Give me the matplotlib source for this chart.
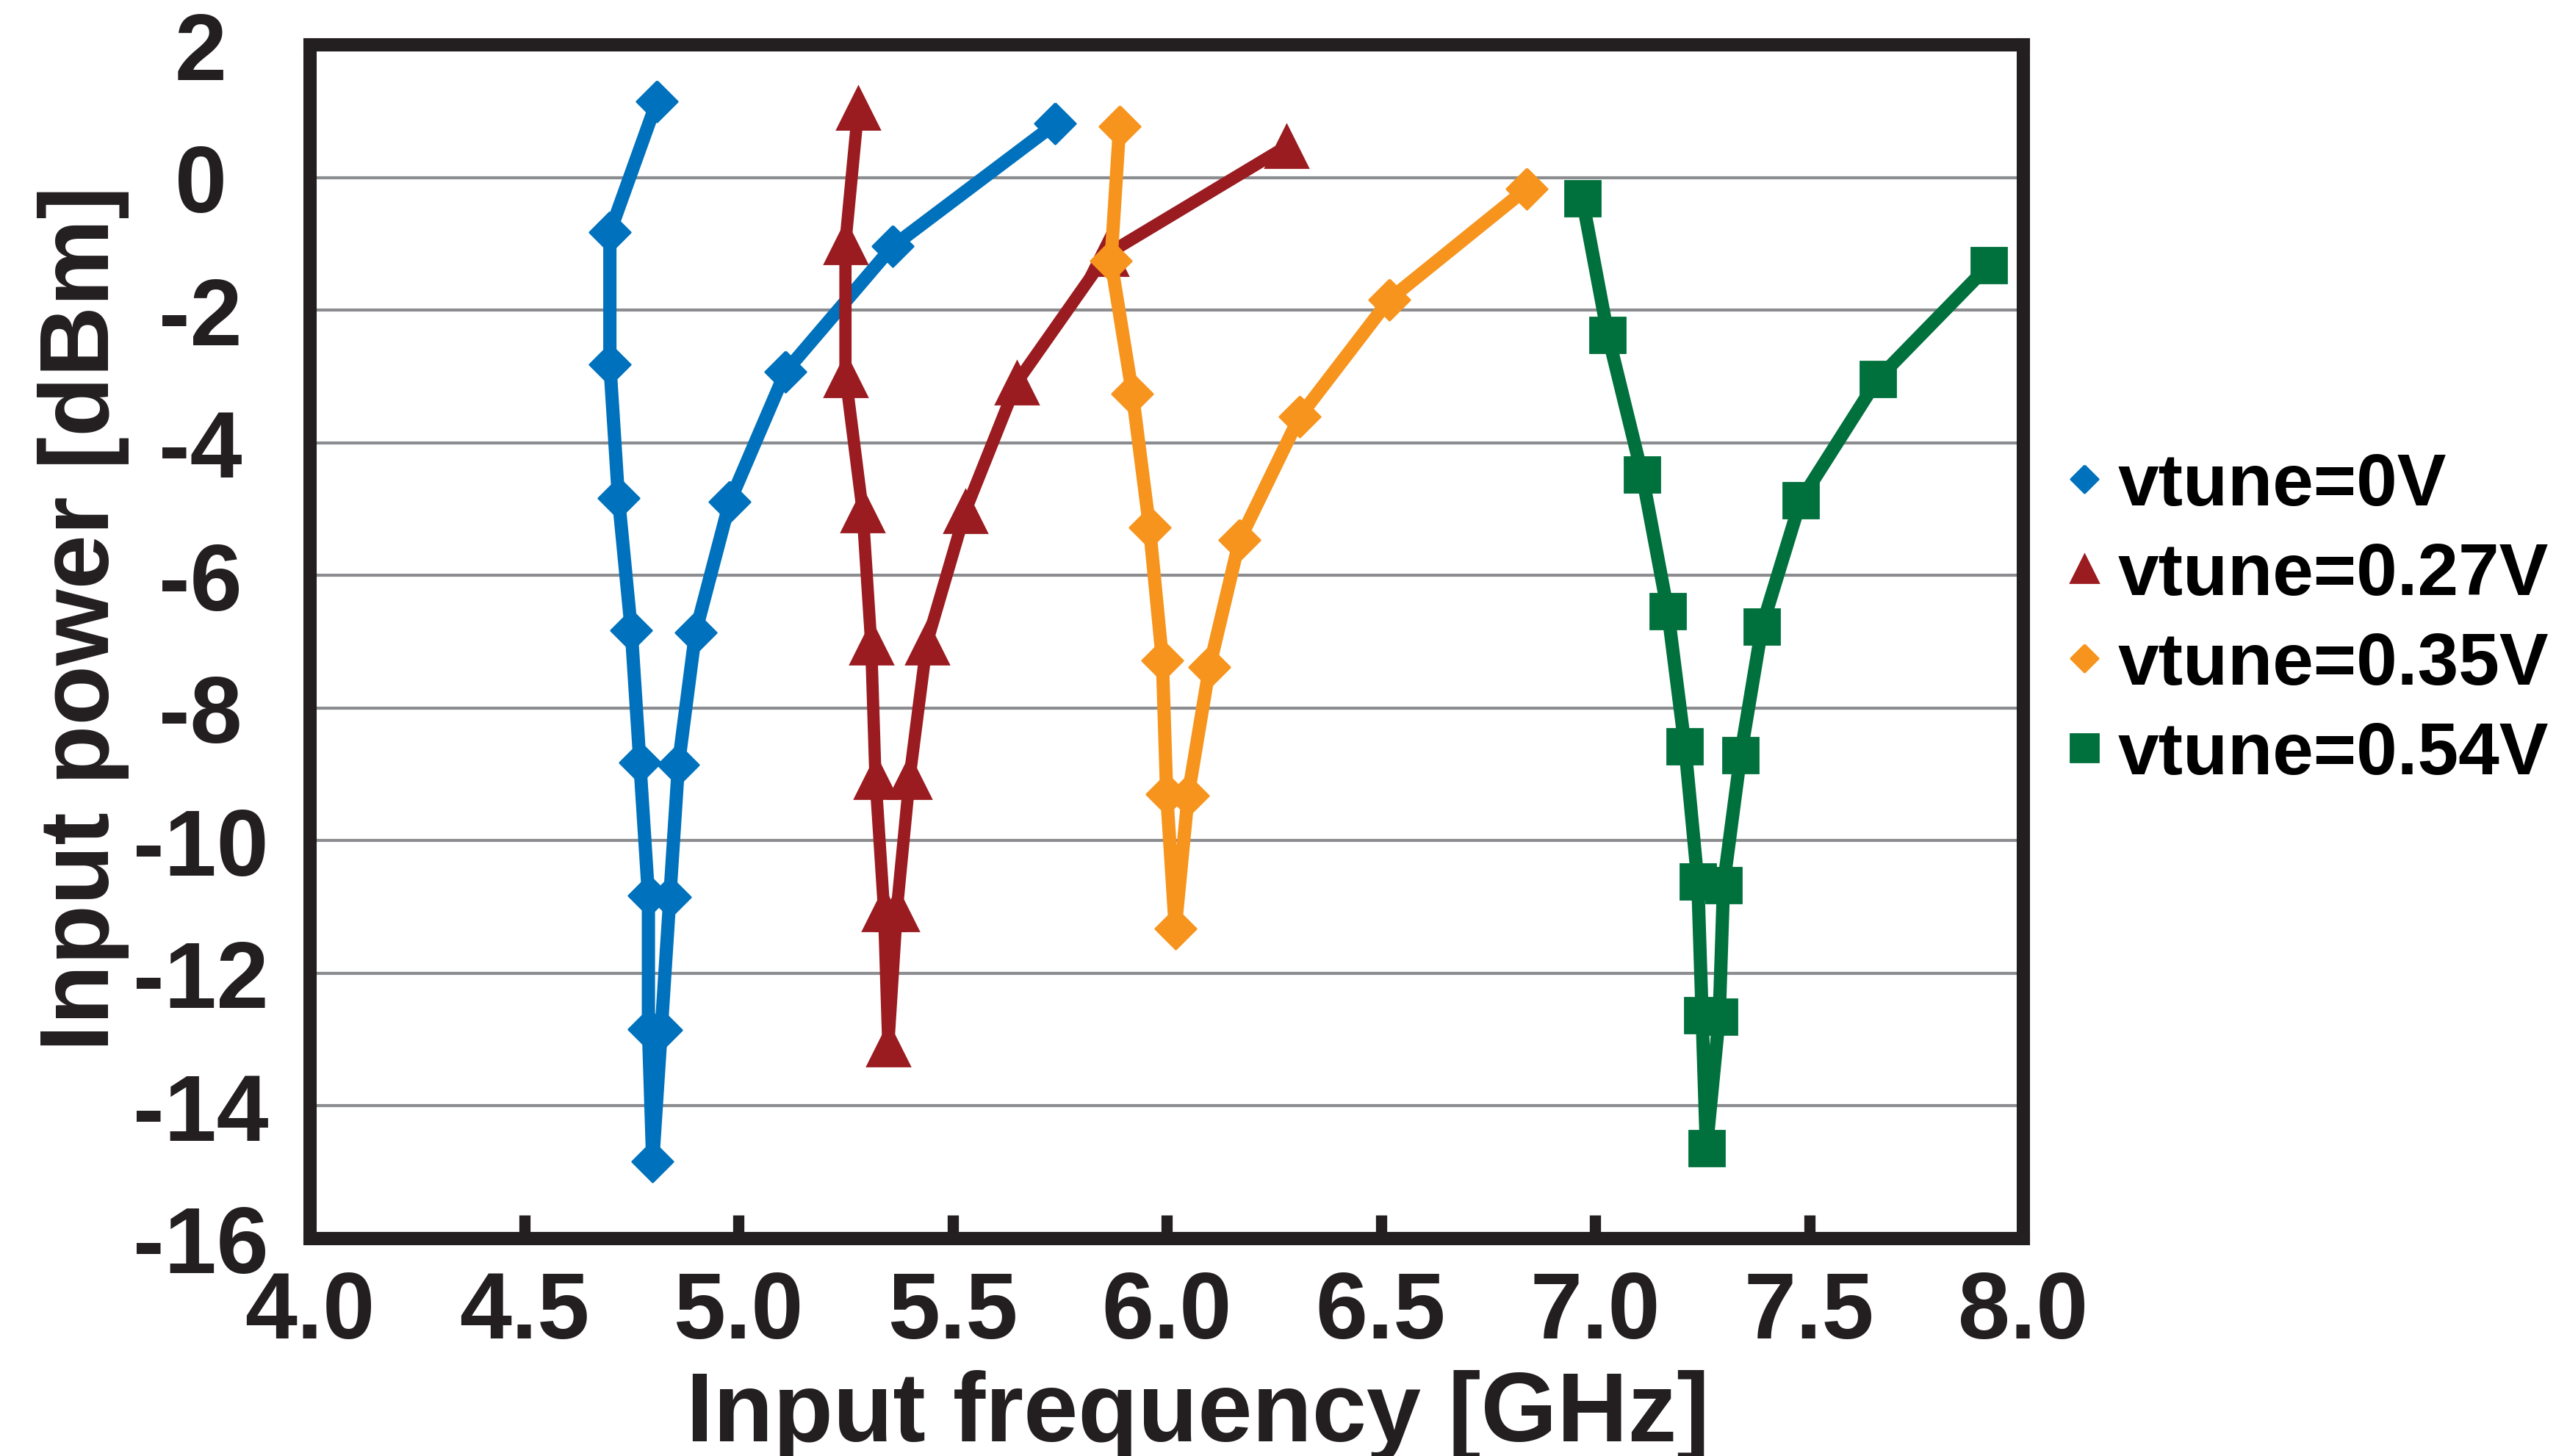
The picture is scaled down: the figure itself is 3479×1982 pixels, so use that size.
import numpy as np
import matplotlib
matplotlib.use('Agg')
import matplotlib.pyplot as plt
from matplotlib.lines import Line2D

plt.rcParams['font.family'] = ['Liberation Sans', 'DejaVu Sans']
plt.rcParams['font.weight'] = 'bold'
plt.rcParams['axes.labelweight'] = 'bold'

# data (frequency in GHz, input power in dBm)
labels = ['vtune=0V', 'vtune=0.27V', 'vtune=0.35V', 'vtune=0.54V']

freq_0v = [4.81, 4.70, 4.70, 4.72, 4.75, 4.77, 4.79, 4.79, 4.80,
           4.82, 4.84, 4.86, 4.90, 4.98, 5.11, 5.36, 5.74]
pwr_0v = [1.15, -0.83, -2.82, -4.83, -6.83, -8.82, -10.83, -12.84, -14.84,
          -12.85, -10.85, -8.86, -6.86, -4.89, -2.93, -1.04, 0.81]

freq_027v = [5.28, 5.25, 5.25, 5.29, 5.31, 5.32, 5.34, 5.35,
             5.37, 5.40, 5.44, 5.53, 5.65, 5.86, 6.28]
pwr_027v = [1.05, -0.98, -2.98, -5.02, -7.02, -9.04, -11.04, -13.08,
            -11.04, -9.04, -7.02, -5.03, -3.09, -1.16, 0.47]

freq_035v = [5.89, 5.87, 5.92, 5.96, 5.99, 6.00, 6.02,
             6.05, 6.10, 6.17, 6.31, 6.52, 6.84]
pwr_035v = [0.77, -1.26, -3.26, -5.28, -7.28, -9.30, -11.32,
            -9.32, -7.38, -5.47, -3.61, -1.84, -0.17]

freq_054v = [6.97, 7.03, 7.11, 7.17, 7.21, 7.24, 7.25, 7.26,
             7.29, 7.30, 7.34, 7.39, 7.48, 7.66, 7.92]
pwr_054v = [-0.31, -2.37, -4.48, -6.54, -8.58, -10.62, -12.63, -14.64,
            -12.65, -10.67, -8.71, -6.77, -4.87, -3.04, -1.32]

x_ticks = [4.0, 4.5, 5.0, 5.5, 6.0, 6.5, 7.0, 7.5, 8.0]
y_ticks = [-16, -14, -12, -10, -8, -6, -4, -2, 0, 2]

freqs = [freq_0v, freq_027v, freq_035v, freq_054v]
pwrs = [pwr_0v, pwr_027v, pwr_035v, pwr_054v]

colors = ['#0071BC', '#9A1B20', '#F7941D', '#00703C']
diamond = [(0, 1), (1, 0), (0, -1), (-1, 0), (0, 1)]
markers = [diamond, '^', diamond, 's']
msizes = [20, 21, 20, 17.5]
lwidths = [6.5, 6, 6.5, 6.5]
dark = '#231F20'

fig = plt.figure(figsize=(3479 / 200, 1983 / 200), dpi=200)
ax = fig.add_axes([422 / 3479, 1 - 1687 / 1983, (2754 - 422) / 3479, (1687 - 62) / 1983])

for xs, ys, c, m, ms, lw in zip(freqs, pwrs, colors, markers, msizes, lwidths):
    ax.plot(xs, ys, color=c, lw=lw, marker=m, ms=ms, mec=c, mfc=c, mew=1)

ax.set_xlim(4, 8)
ax.set_ylim(-16, 2)
ax.set_xticks(x_ticks)
ax.set_xticklabels(['%.1f' % v for v in x_ticks])
ax.set_yticks(y_ticks)
ax.set_yticklabels([str(v) for v in y_ticks])

ax.grid(axis='y', color='#8C8D90', lw=1.5)
ax.set_axisbelow(True)

for sp in ax.spines.values():
    sp.set_linewidth(6.5)
    sp.set_color(dark)

ax.tick_params(axis='x', direction='in', length=11.5, width=5.5, color=dark,
               pad=15, labelsize=46, labelcolor=dark)
ax.tick_params(axis='y', length=0, pad=53.6, labelsize=46, labelcolor=dark)
for lab in ax.get_yticklabels():
    lab.set_ha('center')

ax.set_xlabel('Input frequency [GHz]', fontsize=48, fontweight='bold', color=dark)
ax.xaxis.set_label_coords(0.518, -0.169)
ax.xaxis.label.set_va('baseline')

ax.set_ylabel('Input power [dBm]', fontsize=48, fontweight='bold', color=dark)
ax.yaxis.set_label_coords(-0.1175, 0.52)
ax.yaxis.label.set_va('baseline')

handles = [Line2D([], [], ls='None', marker=m, color=c, ms=13.5)
           for m, c in zip(markers, colors)]
ax.legend(handles, labels, loc='upper left', bbox_to_anchor=(0.804, 0.690),
          bbox_transform=fig.transFigure, frameon=False, fontsize=36,
          handlelength=0.8, handletextpad=0.05, labelspacing=0.28,
          borderpad=0, borderaxespad=0, numpoints=1)

fig.savefig('out.png', dpi=200)
